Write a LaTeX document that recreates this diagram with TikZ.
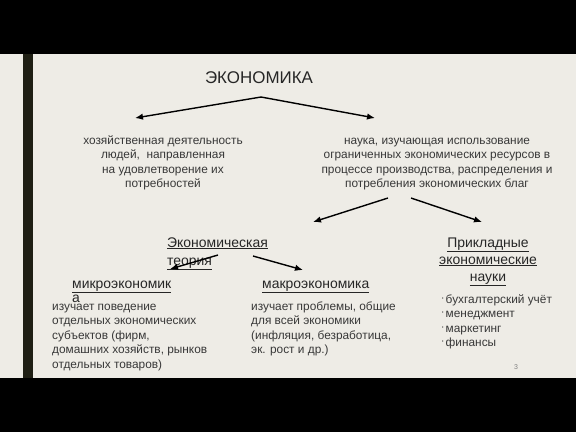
\documentclass[tikz,border=0pt]{standalone}
\usepackage{fontspec}
\setmainfont{Liberation Sans}
\usetikzlibrary{arrows.meta}
\definecolor{slideBg}{HTML}{EEECE6}
\definecolor{barColor}{HTML}{1F1F14}
\definecolor{textGray}{HTML}{383838}
\definecolor{headGray}{HTML}{262626}
\newcommand{\utext}[1]{\underline{#1}}
\newcommand{\bulletItem}[1]{\makebox[4.5bp][l]{\raisebox{1.8bp}{\bfseries$\cdot$}}#1}

\begin{document}
\begin{tikzpicture}[%%
  x=1bp,y=-1bp,%%
  arrowStyle/.style={-{Latex[length=8bp,width=6.5bp]},line width=1.4bp,black},%%
  titleStyle/.style={inner sep=0pt,text=headGray,font=\fontsize{17}{20}\selectfont},%%
  bodyStyle/.style={inner sep=0pt,text=textGray,font=\fontsize{11.9}{14.5}\selectfont},%%
  headStyle/.style={inner sep=0pt,text=headGray,font=\fontsize{14}{18}\selectfont}
]
%%
%% The slide with its black bands.
\useasboundingbox (0,0) rectangle (576,432);
\fill[black] (0,0) rectangle (576,54);
\fill[slideBg] (0,54) rectangle (576,378);
\fill[black] (0,378) rectangle (576,432);
\fill[barColor] (23,54) rectangle (33,378);
%%
%% The title and its two meanings (nodes sit on their last baseline).
\node[titleStyle] (title) at (259,78) {ЭКОНОМИКА};
\coordinate (apex) at (261,97);
\coordinate (activityTip) at (135,118);
\coordinate (scienceTip) at (375,118);
\node[bodyStyle,align=center,anchor=base] (activity) at (163,187.5)
  {хозяйственная деятельность\\людей,\ \ направленная\\на удовлетворение их\\потребностей};
\node[bodyStyle,align=center,anchor=base] (science) at (437,187.5)
  {наука, изучающая использование\\ограниченных экономических ресурсов в\\процессе производства, распределения и\\потребления экономических благ};
\draw[arrowStyle] (apex) -- (activityTip);
\draw[arrowStyle] (apex) -- (scienceTip);
%%
%% The two kinds of economic science.
\node[headStyle,align=left,anchor=base west] (theory) at (167,265)
  {\utext{Экономическая}\\\utext{теория}};
\node[headStyle,align=center,anchor=base,font=\fontsize{14}{17}\selectfont] (applied) at (488,281)
  {\utext{Прикладные}\\\utext{экономические}\\\utext{науки}};
\coordinate (scienceLeft) at (388,198);
\coordinate (scienceRight) at (411,198);
\coordinate (theoryTip) at (313,222);
\coordinate (appliedTip) at (482,222);
\draw[arrowStyle] (scienceLeft) -- (theoryTip);
\draw[arrowStyle] (scienceRight) -- (appliedTip);
%%
%% Micro- and macroeconomics.
\node[headStyle,align=left,anchor=base west,font=\fontsize{14}{14}\selectfont] (micro) at (72,302)
  {\utext{микроэкономик}\\а};
\node[headStyle,anchor=base west] (macro) at (262,288) {\utext{макроэкономика}};
\coordinate (theoryLeft) at (218,255);
\coordinate (theoryRight) at (253,256);
\coordinate (microTip) at (170,269);
\coordinate (macroTip) at (303,270);
\draw[arrowStyle] (theoryLeft) -- (microTip);
\draw[arrowStyle] (theoryRight) -- (macroTip);
\node[bodyStyle,align=left,anchor=base west] (microText) at (52,368)
  {изучает поведение\\отдельных экономических\\субъектов (фирм,\\домашних хозяйств, рынков\\отдельных товаров)};
\node[bodyStyle,align=left,anchor=base west] (macroText) at (251,353.5)
  {изучает проблемы, общие\\для всей экономики\\(инфляция, безработица,\\эк. рост и др.)};
%%
%% Applied sciences.
\node[bodyStyle,align=left,anchor=base west] (appliedList) at (441,346.5)
  {\bulletItem{бухгалтерский учёт}\\\bulletItem{менеджмент}\\\bulletItem{маркетинг}\\\bulletItem{финансы}};
%%
%% Page number.
\node[inner sep=0pt,text=black!50,font=\fontsize{7}{8}\selectfont] (pageNo) at (516,367) {3};
\end{tikzpicture}
\end{document}
